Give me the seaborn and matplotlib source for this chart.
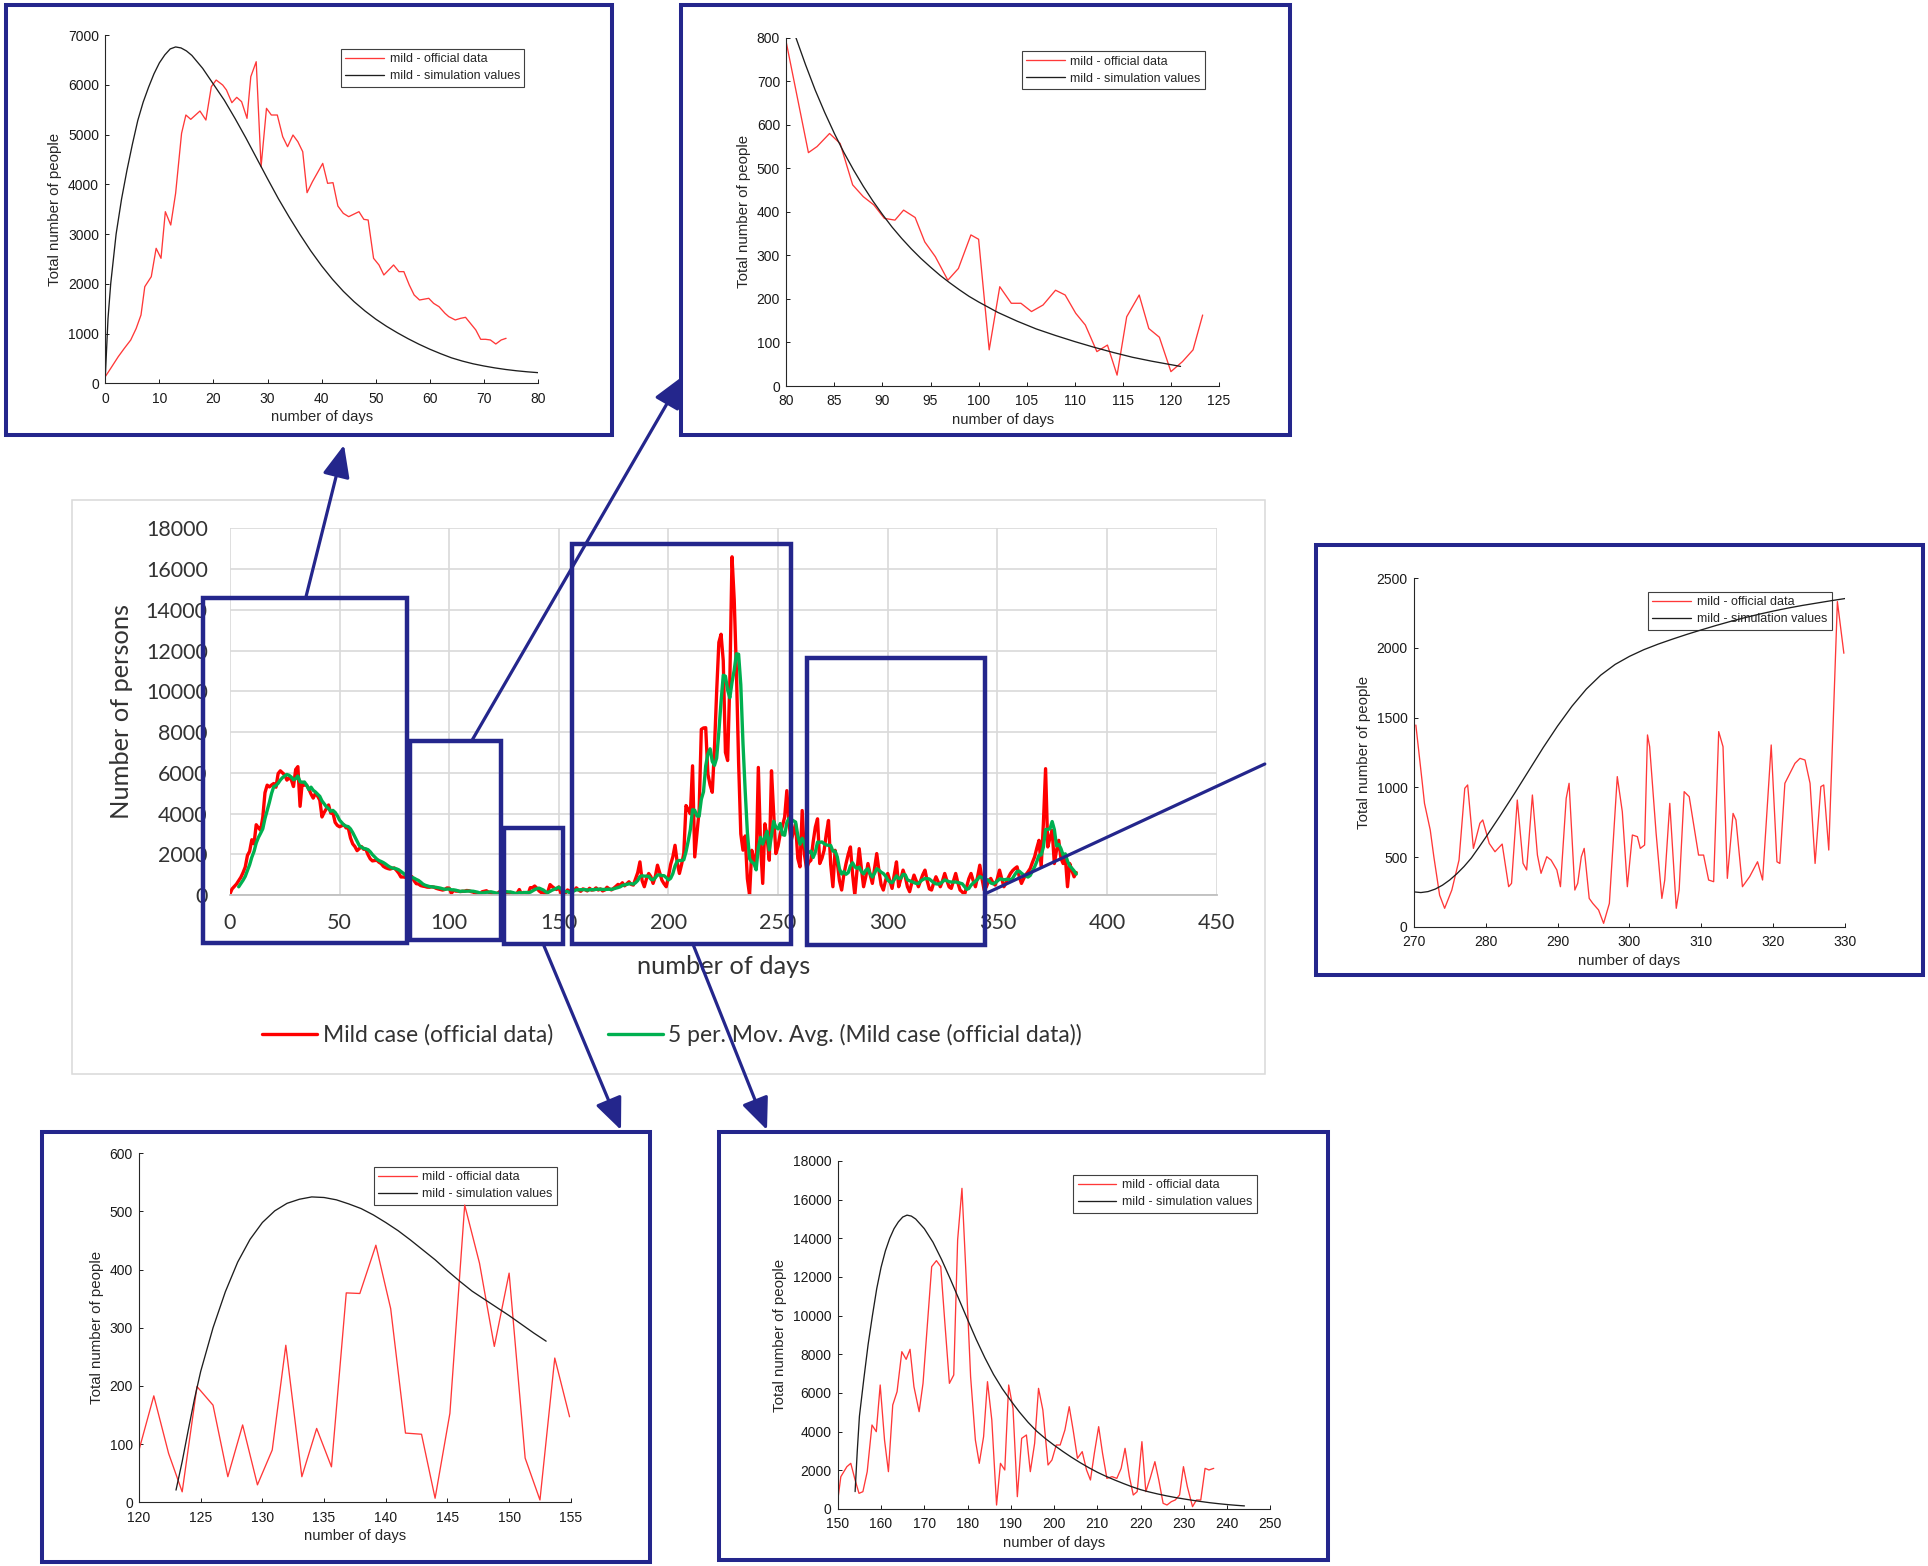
import numpy as np
import pandas as pd
import seaborn as sns
import matplotlib.pyplot as plt
from matplotlib.patches import Rectangle, FancyArrowPatch

sns.set_style('white')
plt.rcParams['font.family'] = ['Liberation Sans', 'DejaVu Sans']

W, H = 1928, 1566
NAVY = '#24268c'
MAIN_FONT = 'Lato'

# ---- main chart: mild cases per day (official data), day 0 .. 386
main_mild = [
    50, 300, 420, 536, 700, 870, 1100, 1373, 1942, 2143,
    2713, 2512, 3449, 3300, 3181, 3818, 5023, 5392, 5305, 5400,
    5472, 5291, 5961, 6095, 5995, 5894, 5640, 5747, 5660, 5325,
    6162, 6300, 4353, 5526, 5392, 5392, 5200, 4956, 4755, 4990,
    4856, 4655, 3831, 4052, 4240, 4420, 4019, 4032, 3563, 3416,
    3349, 3400, 3449, 3295, 3282, 2800, 2512, 2378, 2177, 2280,
    2378, 2244, 2244, 1976, 1775, 1674, 1690, 1708, 1607, 1540,
    1407, 1340, 1300, 1273, 1306, 1326, 1206, 1072, 884, 884,
    871, 790, 871, 904, 700, 557, 540, 462, 435, 416,
    385, 381, 404, 387, 331, 297, 270, 243, 270, 347,
    337, 83, 228, 190, 190, 171, 180, 186, 220, 209,
    167, 140, 79, 94, 25, 159, 185, 209, 132, 112,
    33, 56, 83, 163, 199, 190, 167, 44, 133, 80,
    30, 90, 270, 44, 127, 90, 61, 360, 359, 442,
    333, 200, 119, 117, 7, 153, 511, 411, 330, 268,
    394, 76, 4, 100, 248, 147, 300, 220, 350, 250,
    180, 300, 260, 200, 330, 240, 260, 350, 244, 300,
    200, 250, 380, 300, 250, 330, 420, 520, 480, 600,
    450, 550, 650, 520, 488, 800, 1100, 1626, 700, 407,
    800, 1057, 900, 570, 900, 1463, 1100, 732, 550, 407,
    900, 1500, 1870, 2440, 1600, 1057, 1500, 2033, 4390, 4200,
    3984, 6341, 1870, 3000, 4146, 8130, 8200, 8211, 5935, 5400,
    5041, 7236, 10000, 12400, 12800, 11500, 7000, 6600, 10500, 16600,
    14500, 11000, 6500, 3000, 2200, 2900, 800, 0, 2195, 1800,
    1382, 6260, 2500, 570, 3496, 2800, 1707, 6097, 4000, 2033,
    2400, 3008, 3400, 3821, 5122, 3500, 2683, 3100, 3496, 1800,
    1382, 4146, 2000, 1300, 1600, 1707, 2600, 3333, 3740, 1545,
    1800, 2195, 3000, 3659, 1500, 406, 2195, 1600, 700, 244,
    1000, 1545, 2000, 2358, 1000, 0, 1200, 2276, 1300, 406,
    900, 1545, 1000, 569, 1300, 2033, 1200, 500, 244, 700,
    1057, 700, 325, 1000, 1626, 406, 800, 1220, 900, 400,
    163, 600, 976, 700, 406, 700, 1000, 1220, 700, 300,
    244, 600, 894, 650, 406, 700, 1057, 700, 400, 325,
    700, 1057, 600, 244, 150, 0, 400, 800, 1057, 700,
    406, 900, 1463, 800, 244, 400, 700, 813, 600, 488,
    800, 1220, 800, 406, 600, 850, 1057, 1200, 1300, 1382,
    900, 569, 800, 1000, 1138, 1300, 1600, 1870, 2300, 2683,
    1382, 3500, 6200, 2358, 2800, 3171, 1545, 2200, 2683, 1800,
    1545, 1870, 406, 1545, 1200, 894, 1100,
]
main_days = list(range(len(main_mild)))

# ---- inset 1: days 0-80
i1_days = [0, 1, 2.4, 3.5, 4.7, 5.7, 6.6, 7.3, 8.5, 9.4, 10.3, 11.1, 12.1, 13.0, 14.1,
           14.9, 15.8, 17.5, 18.6, 19.6, 20.5, 21.7, 22.4, 23.4, 24.3, 25.2, 26.2, 26.9,
           27.9, 28.8, 29.8, 30.7, 31.8, 32.8, 33.7, 34.7, 35.6, 36.5, 37.3, 38.3, 40.2,
           41.1, 42.1, 43.0, 44.0, 45.0, 46.9, 47.8, 48.6, 49.6, 50.6, 51.5, 53.3, 54.3,
           55.2, 56.2, 57.1, 58.1, 59.8, 60.7, 61.7, 62.8, 63.5, 64.7, 65.7, 66.6, 67.5,
           68.5, 69.4, 70.3, 71.2, 72.2, 73.2, 74.1]
i1_mild = [134, 300, 536, 700, 870, 1100, 1373, 1942, 2143, 2713, 2512, 3449, 3181, 3818,
           5023, 5392, 5305, 5472, 5291, 5961, 6095, 5995, 5894, 5640, 5747, 5660, 5325,
           6162, 6463, 4353, 5526, 5392, 5392, 4956, 4755, 4990, 4856, 4655, 3831, 4052,
           4420, 4019, 4032, 3563, 3416, 3349, 3449, 3295, 3282, 2512, 2378, 2177, 2378,
           2244, 2244, 1976, 1775, 1674, 1708, 1607, 1540, 1407, 1340, 1273, 1306, 1326,
           1206, 1072, 884, 884, 871, 790, 871, 904]
s1_days = [0, 0.5, 1, 2, 3, 4, 5, 6, 7, 8, 9, 10, 11, 12, 13, 14, 15, 16, 18, 20, 22, 24,
           26, 28, 30, 32, 34, 36, 38, 40, 42, 44, 46, 48, 50, 52, 54, 56, 58, 60, 62, 64,
           66, 68, 70, 72, 74, 76, 78, 80]
s1_sim = [130, 1300, 2000, 3000, 3700, 4280, 4800, 5280, 5650, 5950, 6220, 6440, 6600,
          6720, 6760, 6740, 6680, 6590, 6330, 6010, 5690, 5320, 4930, 4520, 4110, 3710,
          3340, 2990, 2660, 2360, 2090, 1850, 1640, 1455, 1290, 1145, 1015, 895, 785,
          685, 595, 512, 447, 392, 348, 310, 278, 252, 231, 214]

# ---- inset 2: days 80-125
i2_days = [80, 82.3, 83.2, 84.5, 85.6, 86.9, 88.0, 89.1, 90.2, 91.3, 92.2, 93.4, 94.4,
           95.5, 96.8, 97.9, 99.2, 100.0, 101.1, 102.2, 103.4, 104.4, 105.5, 106.7, 108.0,
           109.0, 110.1, 111.1, 112.3, 113.4, 114.4, 115.4, 116.7, 117.7, 118.8, 120.0,
           121.2, 122.3, 123.3]
i2_mild = [789, 536, 550, 580, 557, 462, 435, 416, 385, 381, 404, 387, 331, 297, 243, 270,
           347, 337, 83, 228, 190, 190, 171, 186, 220, 209, 167, 140, 79, 94, 25, 159, 209,
           132, 112, 33, 56, 83, 163]
s2_days = [81, 82, 83, 84, 85, 86, 87, 88, 89, 90, 91, 92, 93, 94, 95, 96, 97, 98, 99, 100,
           101, 102, 104, 106, 108, 110, 112, 114, 116, 118, 120, 121]
s2_sim = [800, 738, 680, 628, 580, 536, 496, 459, 425, 394, 365, 339, 315, 293, 273, 254,
          237, 221, 206, 193, 181, 169, 149, 131, 116, 102, 89, 77, 66, 57, 49, 45]

# ---- inset 3: days 270-330
i3_days = [270.3, 271.2, 271.5, 272.3, 272.8, 273.6, 274.3, 275.3, 276.3, 277.1, 277.5,
           278.3, 279.2, 279.6, 280.5, 281.3, 282.3, 283.2, 283.6, 284.4, 285.2, 285.7,
           286.5, 287.2, 287.7, 288.5, 289.1, 289.9, 290.4, 291.2, 291.6, 292.4, 292.8,
           293.3, 293.7, 294.4, 294.9, 295.7, 296.4, 297.2, 298.3, 299.0, 299.7, 300.4,
           301.1, 301.5, 302.1, 302.5, 302.8, 303.7, 304.5, 304.9, 305.6, 306.5, 306.9,
           307.6, 308.3, 309.6, 310.3, 311.0, 311.7, 312.4, 313.0, 313.6, 314.4, 314.8,
           315.7, 316.7, 317.8, 318.5, 319.7, 320.5, 320.9, 321.6, 323.0, 323.7, 324.4,
           325.1, 325.8, 326.6, 327.0, 327.7, 328.9, 329.8]
i3_mild = [1447, 1029, 885, 694, 502, 227, 132, 263, 478, 993, 1017, 562, 742, 766, 598,
           538, 593, 287, 311, 909, 455, 407, 945, 514, 383, 502, 478, 407, 287, 921, 1029,
           263, 311, 502, 562, 203, 167, 120, 24, 167, 1077, 825, 287, 658, 646, 562, 586,
           1376, 1292, 670, 203, 335, 885, 132, 263, 969, 933, 514, 514, 335, 323, 1400,
           1292, 347, 813, 766, 287, 359, 466, 335, 1304, 466, 454, 1029, 1172, 1208, 1196,
           1029, 454, 1005, 1017, 550, 2333, 1962]
s3_days = [270, 271, 272, 273, 274, 275, 276, 277, 278, 279, 280, 282, 284, 286, 288, 290,
           292, 294, 296, 298, 300, 302, 304, 306, 308, 310, 312, 314, 316, 318, 320, 322,
           324, 326, 328, 330]
s3_sim = [250, 245, 252, 270, 298, 335, 380, 432, 492, 565, 640, 795, 955, 1120, 1285,
          1440, 1582, 1705, 1805, 1882, 1940, 1988, 2028, 2064, 2098, 2130, 2161, 2190,
          2217, 2242, 2265, 2286, 2305, 2322, 2339, 2355]

# ---- inset 4: days 120-155
i4_days = [120, 121.2, 122.4, 123.5, 124.7, 126.0, 127.2, 128.4, 129.6, 130.8, 131.9,
           133.2, 134.4, 135.6, 136.8, 137.9, 139.2, 140.4, 141.6, 142.9, 144.0, 145.2,
           146.4, 147.6, 148.8, 150.0, 151.3, 152.5, 153.7, 154.9]
i4_mild = [90, 183, 84, 18, 199, 167, 44, 133, 30, 90, 270, 44, 127, 61, 360, 359, 442,
           333, 119, 117, 7, 153, 511, 411, 268, 394, 76, 4, 248, 147]
s4_days = [123, 123.5, 124, 124.5, 125, 126, 127, 128, 129, 130, 131, 132, 133, 134, 135,
           136, 137, 138, 139, 140, 141, 142, 143, 144, 145, 146, 147, 148, 149, 150, 151,
           152, 153]
s4_sim = [21, 70, 125, 178, 225, 300, 362, 413, 452, 481, 501, 514, 521, 525, 524, 520,
          513, 505, 494, 481, 467, 451, 434, 417, 398, 380, 363, 349, 335, 321, 306, 291,
          277]

# ---- inset 5: days 150-250
i5_days = [150.0, 150.7, 152.1, 153.0, 154.0, 154.9, 155.8, 156.8, 157.9, 158.9, 159.8,
           160.8, 161.7, 162.7, 163.7, 164.8, 165.8, 166.7, 167.6, 168.8, 169.7, 171.7,
           172.8, 173.8, 174.7, 175.8, 176.8, 177.7, 178.7, 179.7, 180.7, 181.8, 182.7,
           183.7, 184.6, 185.6, 186.7, 187.6, 188.6, 189.5, 190.5, 191.5, 192.5, 193.6,
           194.5, 195.5, 196.4, 197.4, 198.6, 199.5, 200.5, 201.4, 202.5, 203.5, 204.4,
           205.4, 206.5, 207.5, 208.4, 209.3, 210.3, 211.2, 212.2, 213.4, 214.5, 215.5,
           216.4, 217.4, 218.3, 219.2, 220.3, 221.2, 222.2, 223.3, 224.2, 225.2, 226.1,
           227.1, 228.0, 229.0, 229.9, 230.8, 232.0, 232.9, 233.9, 234.9, 235.8, 236.9]
i5_mild = [466, 1672, 2190, 2362, 1500, 810, 897, 1931, 4345, 4000, 6414, 3569, 1931, 5379,
           6069, 8138, 7741, 8259, 6328, 5034, 6500, 12534, 12845, 12534, 9776, 6500, 6931,
           13914, 16586, 11845, 6845, 3569, 2362, 3741, 6586, 4603, 207, 2362, 2017, 6414,
           5207, 638, 3655, 3828, 1931, 3397, 6241, 5121, 2276, 2534, 3310, 3310, 4086,
           5293, 4086, 2621, 2966, 2017, 1500, 2879, 4259, 2879, 1586, 1672, 1586, 2103,
           3138, 1672, 724, 897, 3483, 897, 1586, 2448, 1500, 293, 207, 379, 466, 724, 2190,
           1155, 121, 466, 466, 2103, 2017, 2103]
s5_days = [154, 154.5, 155, 156, 157, 158, 159, 160, 161, 162, 163, 164, 165, 166, 167,
           168, 170, 172, 174, 176, 178, 180, 182, 184, 186, 188, 190, 192, 194, 196, 198,
           200, 202, 204, 206, 208, 210, 212, 214, 216, 218, 220, 222, 224, 226, 228, 230,
           232, 234, 236, 238, 240, 242, 244]
s5_sim = [900, 3000, 4800, 6700, 8500, 10000, 11400, 12500, 13350, 14000, 14500, 14850,
          15100, 15200, 15150, 15000, 14500, 13800, 12900, 11900, 10850, 9800, 8770, 7820,
          6960, 6230, 5600, 5010, 4480, 4020, 3640, 3300, 2980, 2680, 2400, 2140, 1900,
          1690, 1500, 1320, 1150, 1000, 880, 775, 680, 595, 520, 450, 385, 325, 275, 230,
          192, 160]


def px_rect(x0, y0, x1, y1):
    # pixel box (origin top-left) -> figure fraction rect
    return [x0 / W, 1 - y1 / H, (x1 - x0) / W, (y1 - y0) / H]


fig = plt.figure(figsize=(W / 100, H / 100), dpi=100)

# ---------------- main Excel-style chart
ax = fig.add_axes(px_rect(229.9, 528.3, 1216.6, 895))
main = pd.DataFrame({'day': main_days, 'mild': main_mild})
main['avg'] = main['mild'].rolling(5).mean()
sns.lineplot(data=main, x='day', y='mild', ax=ax, color='#ff0000', linewidth=2.4,
             label='Mild case (official data)')
sns.lineplot(data=main.dropna(), x='day', y='avg', ax=ax, color='#00b050', linewidth=2.4,
             label='5 per. Mov. Avg. (Mild case (official data))')
ax.set_xlim(0, 450)
ax.set_ylim(0, 18000)
xt = list(range(0, 451, 50))
yt = list(range(0, 18001, 2000))
ax.set_xticks(xt, [str(v) for v in xt], fontfamily=MAIN_FONT, fontsize=15.5, color='#333333')
ax.set_yticks(yt, [str(v) for v in yt], fontfamily=MAIN_FONT, fontsize=15.5, color='#333333')
ax.tick_params(length=0)
ax.tick_params(axis='x', pad=13)
ax.tick_params(axis='y', pad=16)
ax.grid(True, color='#d9d9d9', linewidth=1.2)
for s in ['top', 'right', 'left']:
    ax.spines[s].set_visible(False)
ax.spines['bottom'].set_color('#bfbfbf')
ax.spines['bottom'].set_linewidth(1.3)
ax.set_xlabel('number of days', fontfamily=MAIN_FONT, fontsize=18.3, color='#333333',
              labelpad=16)
ax.set_ylabel('Number of persons', fontfamily=MAIN_FONT, fontsize=18.3, color='#333333',
              labelpad=9)
ax.legend(loc='center', bbox_to_anchor=(672 / W, 1 - 1035 / H),
          bbox_transform=fig.transFigure, ncol=2, frameon=False,
          prop={'family': MAIN_FONT, 'size': 16.5}, handlelength=2.4,
          handletextpad=0.25, columnspacing=2.4)
for t in ax.get_legend().get_texts():
    t.set_color('#333333')


# ---------------- MATLAB-style insets
def inset(rect, off_x, off_y, sim_x, sim_y, xticks, yticks):
    a = fig.add_axes(px_rect(*rect))
    sns.lineplot(x=off_x, y=off_y, ax=a, color='#ff3838', linewidth=0.95,
                 label='mild - official data')
    sns.lineplot(x=sim_x, y=sim_y, ax=a, color='#1e1e1e', linewidth=0.95,
                 label='mild - simulation values')
    a.set_xlim(xticks[0], xticks[-1])
    a.set_ylim(yticks[0], yticks[-1])
    a.set_xticks(xticks, [str(v) for v in xticks], fontsize=10)
    a.set_yticks(yticks, [str(v) for v in yticks], fontsize=10)
    a.spines[['top', 'right']].set_visible(False)
    for s in ['left', 'bottom']:
        a.spines[s].set_color('#262626')
        a.spines[s].set_linewidth(0.8)
    a.tick_params(bottom=True, left=True, direction='in', length=3, width=0.7,
                  colors='#1a1a1a')
    a.tick_params(axis='x', pad=6)
    a.tick_params(axis='y', pad=4.5)
    a.set_xlabel('number of days', fontsize=10.6, labelpad=3.5)
    a.set_ylabel('Total number of people', fontsize=10.8, labelpad=4)
    leg = a.legend(loc='upper right', fontsize=9, fancybox=False, framealpha=1,
                   edgecolor='#404040', handlelength=3.1, handletextpad=0.45,
                   borderpad=0.35, labelspacing=0.4, borderaxespad=1.1)
    leg.get_frame().set_linewidth(0.8)
    leg.set_zorder(1)
    return a


inset((105.3, 35, 538, 383.3), i1_days, i1_mild, s1_days, s1_sim,
      list(range(0, 81, 10)), list(range(0, 7001, 1000)))
inset((786.3, 37.7, 1219, 386), i2_days, i2_mild, s2_days, s2_sim,
      list(range(80, 126, 5)), list(range(0, 801, 100)))
inset((1413.7, 578.3, 1845.3, 926.7), i3_days, i3_mild, s3_days, s3_sim,
      list(range(270, 331, 10)), list(range(0, 2501, 500)))
inset((139, 1153.3, 570.8, 1502.3), i4_days, i4_mild, s4_days, s4_sim,
      list(range(120, 156, 5)), list(range(0, 601, 100)))
inset((837.8, 1161, 1270.4, 1509), i5_days, i5_mild, s5_days, s5_sim,
      list(range(150, 251, 10)), list(range(0, 18001, 2000)))

# ---------------- overlay: zoom boxes, frames, arrows (pixel space)
ov = fig.add_axes([0, 0, 1, 1], zorder=10)
ov.set_xlim(0, W)
ov.set_ylim(H, 0)
ov.axis('off')


def frame(x0, y0, x1, y1, color=NAVY, lw=2.9):
    ov.add_patch(Rectangle((x0, y0), x1 - x0, y1 - y0, fill=False, ec=color, lw=lw,
                           joinstyle='miter'))


frame(71.5, 499.6, 1264.8, 1073.6, color='#d9d9d9', lw=1.1)
for b in [(6, 5, 612, 435), (681.4, 5, 1289.6, 435), (1315.9, 545, 1923, 975),
          (42.2, 1131.7, 650.4, 1561.7), (719, 1131.7, 1328.4, 1560)]:
    frame(*b)
for b in [(203.3, 598.3, 407.1, 942.7), (409.9, 740.7, 500.8, 940.4),
          (504.4, 827.5, 562.7, 943.5), (572, 543.6, 791, 943.5),
          (807, 657.6, 984.7, 944.6)]:
    frame(*b, lw=3.2)

for (p0, p1) in [((305.6, 598.3), (344, 445)), ((471.8, 740.7), (683, 376)),
                 ((543, 943.5), (621, 1130)), ((692.7, 943.5), (767, 1130))]:
    ov.add_patch(FancyArrowPatch(p0, p1, arrowstyle='-|>,head_length=0.7,head_width=0.3',
                                 mutation_scale=28, color=NAVY, lw=2.3,
                                 shrinkA=0, shrinkB=0))
ov.add_patch(FancyArrowPatch((984.7, 894), (1264.8, 764), arrowstyle='-', color=NAVY,
                             lw=2.3, shrinkA=0, shrinkB=0))

fig.savefig('out.png', dpi=100)
